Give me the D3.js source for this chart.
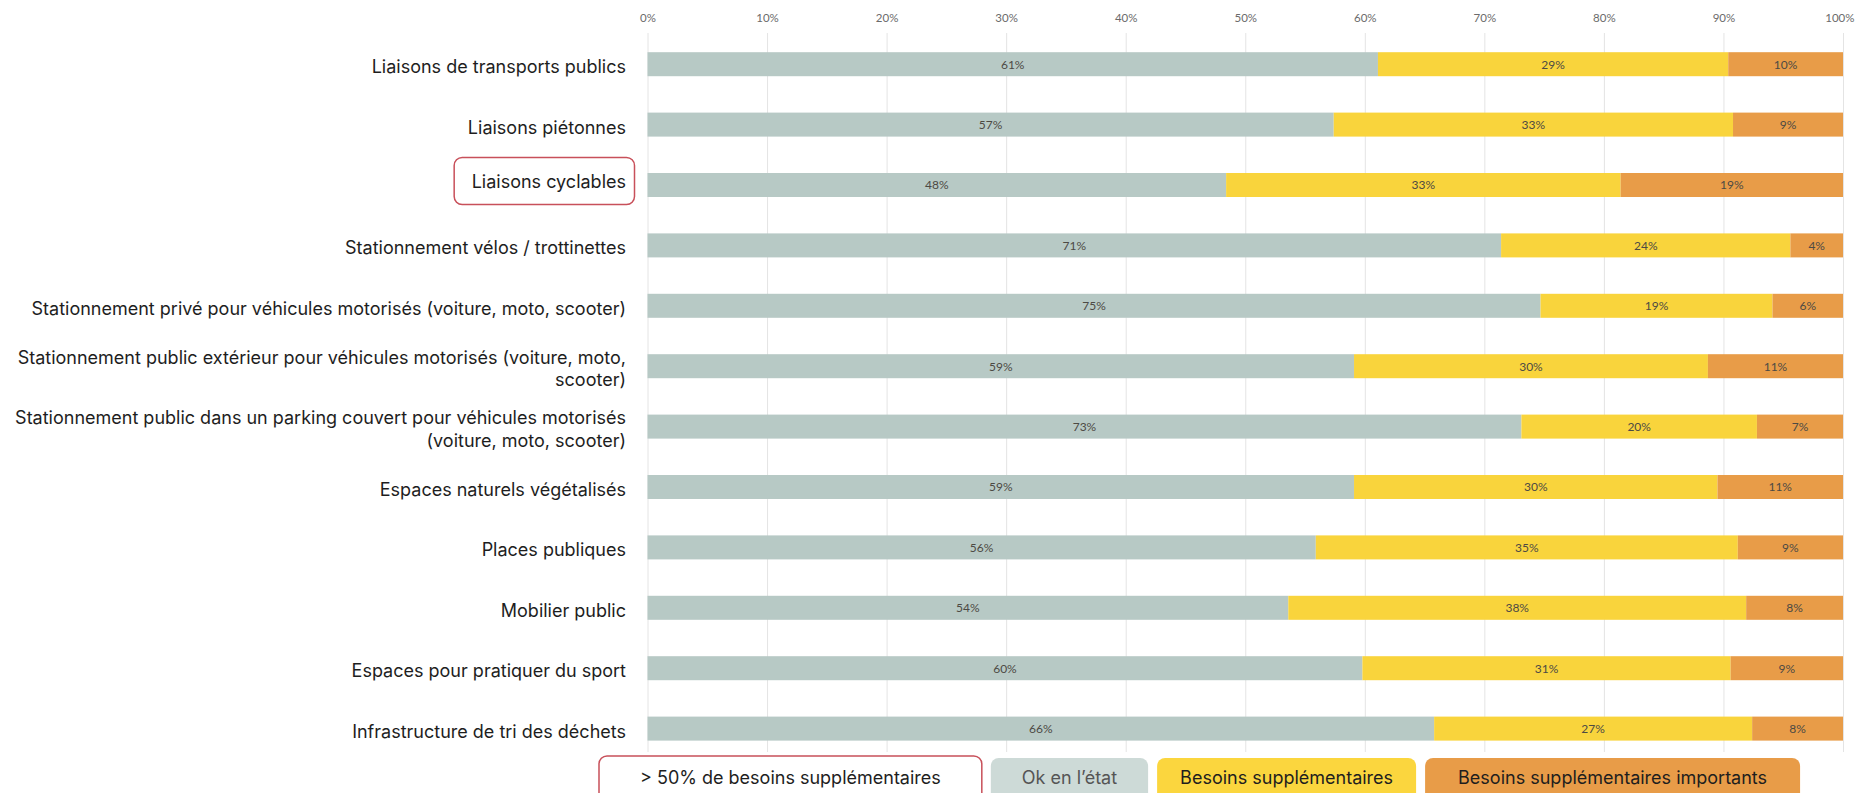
<!DOCTYPE html>
<html>
<head>
<meta charset="utf-8">
<script src="https://cdn.jsdelivr.net/npm/d3@7"></script>
<style>
  body { margin: 0; background: #fff; }
  svg { display: block; }
</style>
</head>
<body>
<div id="chart"></div>
<script>
// categories, top to bottom
const categories = [
  "Liaisons de transports publics",
  "Liaisons piétonnes",
  "Liaisons cyclables",
  "Stationnement vélos / trottinettes",
  "Stationnement privé pour véhicules motorisés (voiture, moto, scooter)",
  "Stationnement public extérieur pour véhicules motorisés (voiture, moto, scooter)",
  "Stationnement public dans un parking couvert pour véhicules motorisés (voiture, moto, scooter)",
  "Espaces naturels végétalisés",
  "Places publiques",
  "Mobilier public",
  "Espaces pour pratiquer du sport",
  "Infrastructure de tri des déchets"
];

// % of answers
const okValues        = [61.1, 57.4, 48.4, 71.4, 74.7, 59.1, 73.1, 59.1, 55.9, 53.6, 59.8, 65.8];
const besoinsValues   = [29.3, 33.4, 33.0, 24.2, 19.4, 29.6, 19.7, 30.4, 35.3, 38.3, 30.8, 26.6];
const importantValues = [ 9.6,  9.2, 18.6,  4.4,  5.9, 11.3,  7.2, 10.5,  8.8,  8.1,  9.4,  7.6];

const seriesKeys   = ["ok", "besoins", "importants"];
const seriesNames  = ["Ok en l’état", "Besoins supplémentaires", "Besoins supplémentaires importants"];
const tickValues   = [0, 10, 20, 30, 40, 50, 60, 70, 80, 90, 100];
const highlighted  = ["Liaisons cyclables"];
const highlightTxt = "> 50% de besoins supplémentaires";

const barColors    = {ok: "#b7c9c5", besoins: "#f9d43c", importants: "#e89c48"};
const legendFill   = {ok: "#cddad7", besoins: "#fbd63e", importants: "#e89c48"};
const legendText   = {ok: "#555", besoins: "#1e1e1e", importants: "#1e1e1e"};
const legendPad    = {hl: 41, ok: 31, besoins: 23, importants: 33};
const red = "#c8505a";

const width = 1856, height = 793;
const labelFont = "Inter, Roboto, sans-serif";
const smallFont = "Lato, 'DejaVu Sans', sans-serif";

const rows = categories.map((c, i) => ({
  cat: c, ok: okValues[i], besoins: besoinsValues[i], importants: importantValues[i]
}));

const svg = d3.select("#chart").append("svg")
  .attr("width", width)
  .attr("height", height);

const x = d3.scaleLinear().domain([0, 100]).range([647.5, 1843]);
const y = d3.scaleBand()
  .domain(categories)
  .range([34, 34 + 12 * 60.4])
  .paddingInner(0.6026)
  .paddingOuter(0.3013);

// grid + top tick labels
const gridTop = 33, gridBottom = 752;
const axis = svg.append("g")
  .attr("transform", `translate(0,${gridTop})`)
  .call(d3.axisTop(x)
    .tickValues(tickValues)
    .tickFormat(d => d + "%")
    .tickSize(-(gridBottom - gridTop))
    .tickPadding(11));
axis.select(".domain").remove();
axis.selectAll(".tick line").attr("stroke", "#e4e4e4");
axis.selectAll(".tick text")
  .attr("fill", "#6b6b6b")
  .style("font-family", smallFont)
  .style("font-size", "11.5px");
// keep the 100% label inside the page
axis.selectAll(".tick text").filter(d => d === 100)
  .attr("text-anchor", "end")
  .attr("dx", 11);

// stacked bars
const stack = d3.stack().keys(seriesKeys)(rows);

const layers = svg.append("g").selectAll("g")
  .data(stack)
  .join("g")
  .attr("fill", d => barColors[d.key]);

layers.selectAll("rect")
  .data(d => d)
  .join("rect")
  .attr("x", d => x(d[0]))
  .attr("y", d => y(d.data.cat))
  .attr("width", d => x(d[1]) - x(d[0]))
  .attr("height", y.bandwidth());

layers.selectAll("text")
  .data(d => d)
  .join("text")
  .attr("x", d => (x(d[0]) + x(d[1])) / 2)
  .attr("y", d => y(d.data.cat) + y.bandwidth() / 2)
  .attr("dy", "0.36em")
  .attr("text-anchor", "middle")
  .attr("fill", "#4d4a44")
  .style("font-family", smallFont)
  .style("font-size", "12px")
  .text(d => Math.round(d[1] - d[0]) + "%");

// category labels, wrapped
const labelRight = 626, maxLabelWidth = 628, lineHeight = 22.5;

const labels = svg.append("g").selectAll("text")
  .data(categories)
  .join("text")
  .attr("text-anchor", "end")
  .attr("fill", "#1e1e1e")
  .style("font-family", labelFont)
  .style("font-size", "18px");

labels.each(function(d) {
  const t = d3.select(this);
  const words = d.split(" ");
  let lines = [], line = [];
  const probe = t.append("tspan");
  words.forEach(w => {
    line.push(w);
    probe.text(line.join(" "));
    if (probe.node().getComputedTextLength() > maxLabelWidth && line.length > 1) {
      line.pop();
      lines.push(line.join(" "));
      line = [w];
    }
  });
  lines.push(line.join(" "));
  probe.remove();
  const shift = highlighted.includes(d) ? -6.5 : 0;
  const cy = y(d) + y.bandwidth() / 2 + 9 + shift;
  lines.forEach((l, i) => {
    t.append("tspan")
      .attr("x", labelRight)
      .attr("y", cy + (i - (lines.length - 1) / 2) * lineHeight)
      .text(l);
  });
});

// red box around highlighted labels
labels.filter(d => highlighted.includes(d)).each(function() {
  const b = this.getBBox();
  const base = +d3.select(this).select("tspan").attr("y");
  svg.append("rect")
    .attr("x", b.x - 17.5)
    .attr("y", base - 30)
    .attr("width", b.width + 26)
    .attr("height", 47)
    .attr("rx", 8)
    .attr("fill", "none")
    .attr("stroke", red)
    .attr("stroke-width", 1.5);
});

// legend
const legendItems = [{key: "hl", name: highlightTxt}]
  .concat(seriesKeys.map((k, i) => ({key: k, name: seriesNames[i]})));

const legend = svg.append("g");
let lx = 599;
legendItems.forEach(item => {
  const g = legend.append("g");
  const txt = g.append("text")
    .attr("y", 784)
    .attr("text-anchor", "middle")
    .attr("fill", item.key === "hl" ? "#1e1e1e" : legendText[item.key])
    .style("font-family", labelFont)
    .style("font-size", "18px")
    .text(item.name);
  const tw = txt.node().getComputedTextLength();
  const w = tw + legendPad[item.key] * 2;
  const top = item.key === "hl" ? 756 : 758;
  g.insert("rect", "text")
    .attr("x", lx)
    .attr("y", top)
    .attr("width", w)
    .attr("height", 48)
    .attr("rx", 8)
    .attr("fill", item.key === "hl" ? "none" : legendFill[item.key])
    .attr("stroke", item.key === "hl" ? red : "none")
    .attr("stroke-width", 1.5);
  txt.attr("x", lx + w / 2);
  lx += w + 9;
});
</script>
</body>
</html>
